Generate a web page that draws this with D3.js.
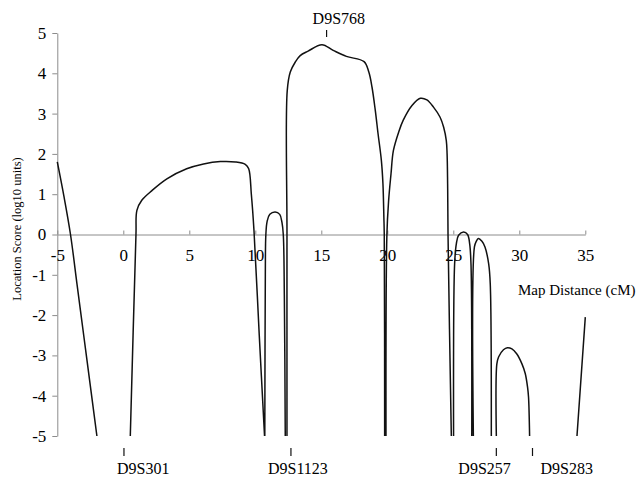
<!DOCTYPE html>
<html>
<head>
<meta charset="utf-8">
<script src="https://cdn.jsdelivr.net/npm/d3@7"></script>
<style>
  body { margin: 0; background: #fff; }
  .axis path, .axis line { stroke: #8c8c8c; }
</style>
</head>
<body>
<div id="chart"></div>
<script>
// location score curve (null = curve below -5, line breaks)
var mapPos = [
  -5, -4.5, -4.0, -3.5, -3.0, -2.5, -2.0, null,
  0.53, 0.96, 1.03, 1.4, 2.17, 3.3, 4.8, 6.08, 7.35, 8.5, 9.24, 9.5, 9.7, 9.9, 10.3, 10.7, null,
  10.72, 10.76, 10.8, 10.9, 11.1, 11.5, 11.85, 12.02, 12.12, 12.2, 12.27, null,
  12.4, 12.4, 12.42, 12.65, 13.03, 13.4, 14.0, 15.05, 15.9, 16.9, 18.24, 18.6, 18.84, 19.09, 19.3, 19.55, 19.67, 19.74, 19.77, 19.8, null,
  19.9, 19.97, 20.1, 20.28, 20.46, 20.86, 21.2, 21.87, 22.5, 23.0, 23.5, 24.0, 24.27, 24.47, 24.53, 24.57, 24.6, 24.85, null,
  25.02, 25.1, 25.23, 25.4, 25.78, 26.08, 26.24, 26.34, 26.4, null,
  26.52, 26.6, 26.74, 26.9, 27.17, 27.4, 27.68, 27.8, 27.88, null,
  28.26, 28.3, 28.43, 28.8, 29.1, 29.44, 29.8, 30.2, 30.45, 30.63, 30.7, 30.78, null,
  34.37, 35.0
];
var lodScore = [
  1.8, 0.95, 0.0, -1.25, -2.5, -3.75, -5, null,
  -5, 0, 0.6, 0.85, 1.09, 1.38, 1.63, 1.75, 1.81, 1.8, 1.74, 1.63, 1.0, 0.1, -2.5, -5, null,
  -5, -1, 0, 0.33, 0.5, 0.56, 0.5, 0.3, 0, -1.5, -5, null,
  -5, 0, 3.57, 4.03, 4.28, 4.44, 4.55, 4.71, 4.57, 4.42, 4.29, 4.03, 3.66, 3.08, 2.5, 1.84, 1.26, 0.43, 0, -5, null,
  -5, 0, 0.84, 1.5, 2.08, 2.54, 2.83, 3.2, 3.38, 3.34, 3.16, 2.91, 2.66, 2.33, 2.0, 1.26, 0, -5, null,
  -5, -0.73, -0.23, -0.02, 0.06, 0.0, -0.23, -0.73, -5, null,
  -5, -0.31, -0.17, -0.1, -0.17, -0.31, -0.73, -1.23, -5, null,
  -5, -3.21, -3.04, -2.86, -2.81, -2.84, -2.96, -3.21, -3.45, -3.8, -4.04, -5, null,
  -5, -2.05
];

// genetic markers
var markerNames = ["D9S301", "D9S1123", "D9S768", "D9S257", "D9S283"];
var markerPos = [0.05, 12.7, 15.4, 28.26, 31.0];
var markerSide = ["bottom", "bottom", "top", "bottom", "bottom"];

var xTicks = [-5, 0, 5, 10, 15, 20, 25, 30, 35];
var yTicks = [-5, -4, -3, -2, -1, 0, 1, 2, 3, 4, 5];

// layout
var width = 640, height = 477;
var serif = "'Liberation Serif', 'Times New Roman', serif";
var labelDx = { "D9S301": -7, "D9S1123": -23, "D9S768": -14, "D9S257": -38, "D9S283": 8 };

var svg = d3.select("#chart").append("svg")
  .attr("width", width)
  .attr("height", height)
  .style("font-family", serif);

var x = d3.scaleLinear().domain([-5, 35]).range([57.3, 585.3]);
var y = d3.scaleLinear().domain([-5, 5]).range([436, 33]);

// make tick labels serif and larger
function styleTicks(g) {
  g.attr("font-family", serif).attr("font-size", 17);
  g.selectAll("text")
    .style("font-family", serif)
    .style("font-size", "17px")
    .attr("fill", "#000");
}

// y axis
svg.append("g")
  .attr("class", "axis")
  .attr("transform", "translate(" + x(-5) + ",0)")
  .call(d3.axisLeft(y).tickValues(yTicks).tickSizeInner(5).tickSizeOuter(0)
    .tickPadding(6).tickFormat(function(d) { return String(d); }))
  .call(styleTicks);

// x axis at zero, ticks pointing up
svg.append("g")
  .attr("class", "axis")
  .attr("transform", "translate(0," + y(0) + ")")
  .call(d3.axisBottom(x).tickValues(xTicks).tickSizeInner(-4).tickSizeOuter(0)
    .tickPadding(14).tickFormat(function(d) { return String(d); }))
  .call(styleTicks);

// axis titles
svg.append("text")
  .attr("x", 518)
  .attr("y", 295)
  .style("font-size", "15px")
  .text("Map Distance (cM)");

svg.append("text")
  .attr("transform", "translate(21,229) rotate(-90)")
  .attr("text-anchor", "middle")
  .style("font-size", "12.5px")
  .text("Location Score (log10 units)");

// curve
var points = mapPos.map(function(p, i) { return { pos: p, score: lodScore[i] }; });
var line = d3.line()
  .defined(function(d) { return d.pos !== null; })
  .x(function(d) { return x(d.pos); })
  .y(function(d) { return y(d.score); })
  .curve(d3.curveCatmullRom.alpha(0.5));

svg.append("path")
  .datum(points)
  .attr("fill", "none")
  .attr("stroke", "#111")
  .attr("stroke-width", 1.5)
  .attr("d", line);

// markers
var markers = markerNames.map(function(n, i) {
  return { name: n, pos: markerPos[i], side: markerSide[i] };
});

var mg = svg.selectAll(".marker").data(markers).enter().append("g").attr("class", "marker");

mg.append("line")
  .attr("x1", function(d) { return x(d.pos); })
  .attr("x2", function(d) { return x(d.pos); })
  .attr("y1", function(d) { return d.side === "top" ? 30 : 448; })
  .attr("y2", function(d) { return d.side === "top" ? 37 : 456; })
  .attr("stroke", "#111")
  .attr("stroke-width", 1.2);

mg.append("text")
  .attr("x", function(d) { return x(d.pos) + labelDx[d.name]; })
  .attr("y", function(d) { return d.side === "top" ? 23.5 : 474; })
  .style("font-size", "16px")
  .text(function(d) { return d.name; });
</script>
</body>
</html>
